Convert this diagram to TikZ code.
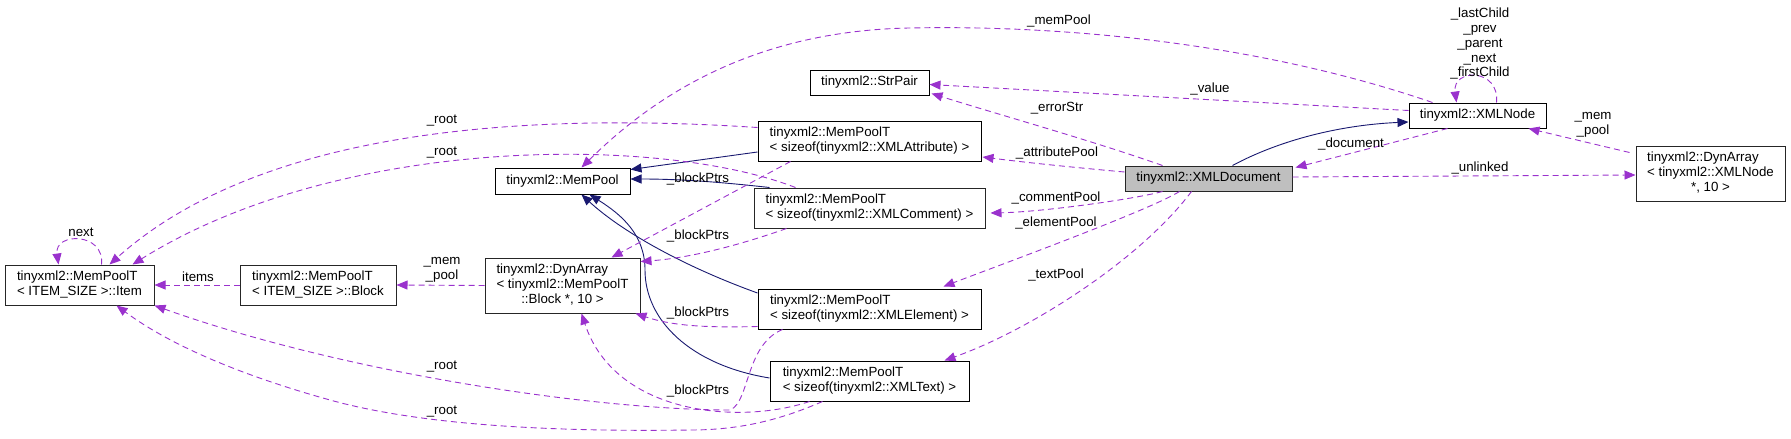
\documentclass[tikz,border=0pt]{standalone}
\usepackage{fontspec}
\setmainfont{Liberation Sans}
\usetikzlibrary{arrows.meta,calc}
\definecolor{usecol}{HTML}{9A32CD}
\definecolor{inhcol}{HTML}{191970}
\definecolor{docfill}{HTML}{BFBFBF}
\newcommand{\dgfont}{\fontsize{13.3pt}{15pt}\selectfont}
\newcommand{\twol}[2]{\begin{tabular}{@{}l@{}}#1\\#2\end{tabular}}
\newcommand{\threel}[3]{\begin{tabular}{@{}l@{}}#1\\#2\\\multicolumn{1}{@{}c@{}}{#3}\end{tabular}}
\begin{document}
\begin{tikzpicture}[x=1pt,y=-1pt,
 cls/.style={draw=black, line width=1pt, inner sep=0pt, font=\dgfont, fill=white},
 gcls/.style={cls, draw=black!85},
 lbl/.style={inner sep=0pt, font=\dgfont, align=center},
 use/.style={draw=usecol, line width=0.9pt, dash pattern=on 6pt off 4pt, -{Triangle[length=11pt,width=9pt,fill=usecol]}},
 inh/.style={draw=inhcol, line width=0.9pt, -{Triangle[length=11pt,width=9pt,fill=inhcol]}}]
\useasboundingbox (0,0) rectangle (1791,439);

% nodes
\node[gcls, minimum width=149pt, minimum height=40pt] (item) at (79.5,285) {\twol{tinyxml2::MemPoolT}{< ITEM\_SIZE >::Item}};
\node[gcls, minimum width=156pt, minimum height=40pt] (block) at (318,285) {\twol{tinyxml2::MemPoolT}{< ITEM\_SIZE >::Block}};
\node[gcls, minimum width=155pt, minimum height=55pt] (dynblock) at (562.5,285.5) {\threel{tinyxml2::DynArray}{< tinyxml2::MemPoolT}{::Block *, 10 >}};
\node[cls, minimum width=135pt, minimum height=26pt] (mempool) at (562.5,181) {tinyxml2::MemPool};
\node[cls, minimum width=223pt, minimum height=40pt] (attr) at (869.5,141) {\twol{tinyxml2::MemPoolT}{< sizeof(tinyxml2::XMLAttribute) >}};
\node[gcls, minimum width=231pt, minimum height=40pt] (comment) at (869.5,208) {\twol{tinyxml2::MemPoolT}{< sizeof(tinyxml2::XMLComment) >}};
\node[cls, minimum width=223pt, minimum height=40pt] (element) at (869.5,309) {\twol{tinyxml2::MemPoolT}{< sizeof(tinyxml2::XMLElement) >}};
\node[cls, minimum width=199pt, minimum height=40pt] (text) at (869.5,381) {\twol{tinyxml2::MemPoolT}{< sizeof(tinyxml2::XMLText) >}};
\node[cls, minimum width=119pt, minimum height=25pt] (strpair) at (869.5,82.5) {tinyxml2::StrPair};
\node[gcls, fill=docfill, minimum width=167pt, minimum height=25pt] (xmldoc) at (1208.5,178.5) {tinyxml2::XMLDocument};
\node[cls, minimum width=137pt, minimum height=25pt] (xmlnode) at (1477.5,115.5) {tinyxml2::XMLNode};
\node[gcls, minimum width=149pt, minimum height=55pt] (dynnode) at (1710.5,173.5) {\threel{tinyxml2::DynArray}{< tinyxml2::XMLNode}{*, 10 >}};

% inheritance (solid)
\draw[inh] ($(attr.west)+(0,11)$) -- ($(mempool.north east)+(0,2)$);
\draw[inh] ($(comment.north west)+(16,0)$) .. controls (720,182) and (680,179) .. ($(mempool.east)+(0,-2)$);
\draw[inh] ($(element.west)+(0,-16)$) .. controls (680,265) and (620,230) .. ($(mempool.south west)+(87,0)$);
\draw[inh] ($(text.west)+(0,-3)$) .. controls (690,365) and (645,320) .. (645,270) .. controls (645,235) and (622,215) .. ($(mempool.south west)+(95,0)$);
\draw[inh] ($(xmldoc.north west)+(108,0)$) .. controls (1280,140) and (1340,125) .. ($(xmlnode.west)+(0,6.5)$);

% usage (dashed)
\draw[use] ($(item.north west)+(97,0)$) .. controls (105,232) and (54,232) .. ($(item.north west)+(54,0)$);
\draw[use] (block.west) -- (item.east);
\draw[use] (dynblock.west) -- (block.east);
\draw[use] ($(attr.north west)+(0,7)$) .. controls (520,112) and (260,130) .. ($(item.north west)+(105,0)$);
\draw[use] ($(comment.north west)+(42,0)$) .. controls (660,135) and (340,135) .. ($(item.north west)+(128,0)$);
\draw[use] ($(element.south west)+(25,0)$) .. controls (745,345) and (750,402) .. (730,410) .. controls (600,410) and (350,375) .. (item.south east);
\draw[use] ($(text.south west)+(53,0)$) .. controls (780,420) and (740,430) .. (690,430) .. controls (550,432) and (420,425) .. (330,400) .. controls (240,375) and (170,345) .. ($(item.south west)+(112,0)$);
\draw[use] ($(xmlnode.north west)+(24,0)$) .. controls (1250,40) and (1050,25) .. (909,28) .. controls (760,31) and (660,90) .. ($(mempool.north west)+(87,0)$);
\draw[use] ($(attr.south west)+(33,0)$) -- ($(dynblock.north west)+(127,0)$);
\draw[use] ($(comment.south west)+(33,0)$) .. controls (740,245) and (690,258) .. ($(dynblock.north east)+(0,4)$);
\draw[use] ($(element.south west)+(0,-3)$) .. controls (700,328) and (670,325) .. ($(dynblock.south east)+(-5,0)$);
\draw[use] ($(text.south west)+(40,0)$) .. controls (740,425) and (615,415) .. ($(dynblock.south west)+(97,0)$);
\draw[use] ($(xmldoc.north west)+(38,0)$) .. controls (1090,140) and (1000,115) .. ($(strpair.south east)+(2,-2)$);
\draw[use] ($(xmlnode.west)+(0,-5)$) -- ($(strpair.east)+(0,2)$);
\draw[use] ($(xmldoc.west)+(0,-6.5)$) .. controls (1080,168) and (1030,163) .. ($(attr.east)+(1,16)$);
\draw[use] ($(xmldoc.south west)+(38,0)$) .. controls (1130,200) and (1040,212) .. ($(comment.east)+(5,5)$);
\draw[use] ($(xmldoc.south west)+(55,0)$) .. controls (1150,210) and (1000,265) .. ($(element.north east)+(-38,-2)$);
\draw[use] ($(xmldoc.south west)+(67,0)$) .. controls (1140,260) and (1030,330) .. ($(text.north east)+(-25,0)$);
\draw[use] ($(xmlnode.south west)+(39,0)$) -- ($(xmldoc.north east)+(3,2)$);
\draw[use] ($(xmlnode.north west)+(88,0)$) .. controls (1500,68) and (1452,68) .. ($(xmlnode.north west)+(48,0)$);
\draw[use] ($(xmldoc.east)+(0,-1.5)$) -- ($(dynnode.west)+(0,1.5)$);
\draw[use] ($(dynnode.north west)+(-6,7)$) -- ($(xmlnode.south east)+(-18,0)$);

% labels
\node[lbl] (lnext) at (81,232) {next};
\node[lbl] (litems) at (198,277) {items};
\node[lbl] (lmemb) at (442,270) {\_mem\\\_pool};
\node[lbl] (lroot1) at (442,121) {\_root};
\node[lbl] (lroot2) at (442,153) {\_root};
\node[lbl] (lroot3) at (442,367) {\_root};
\node[lbl] (lroot4) at (442,412) {\_root};
\node[lbl] (lbp1) at (698,179) {\_blockPtrs};
\node[lbl] (lbp2) at (698,236) {\_blockPtrs};
\node[lbl] (lbp3) at (698,313) {\_blockPtrs};
\node[lbl] (lbp4) at (698,391) {\_blockPtrs};
\node[lbl] (lmempool) at (1059,21) {\_memPool};
\node[lbl] (lvalue) at (1210,89) {\_value};
\node[lbl] (lerr) at (1057,108) {\_errorStr};
\node[lbl] (lattr) at (1057,153) {\_attributePool};
\node[lbl] (lcomm) at (1056,198) {\_commentPool};
\node[lbl] (lelem) at (1056,223) {\_elementPool};
\node[lbl] (ltext) at (1056,275) {\_textPool};
\node[lbl] (ldoc) at (1351,144) {\_document};
\node[lbl] (lunl) at (1480,168) {\_unlinked};
\node[lbl, font={\fontsize{13.3pt}{14.75pt}\selectfont}] (lself) at (1480,44) {\_lastChild\\\_prev\\\_parent\\\_next\\\_firstChild};
\node[lbl] (lmemn) at (1593,124.5) {\_mem\\\_pool};
\end{tikzpicture}
\end{document}
